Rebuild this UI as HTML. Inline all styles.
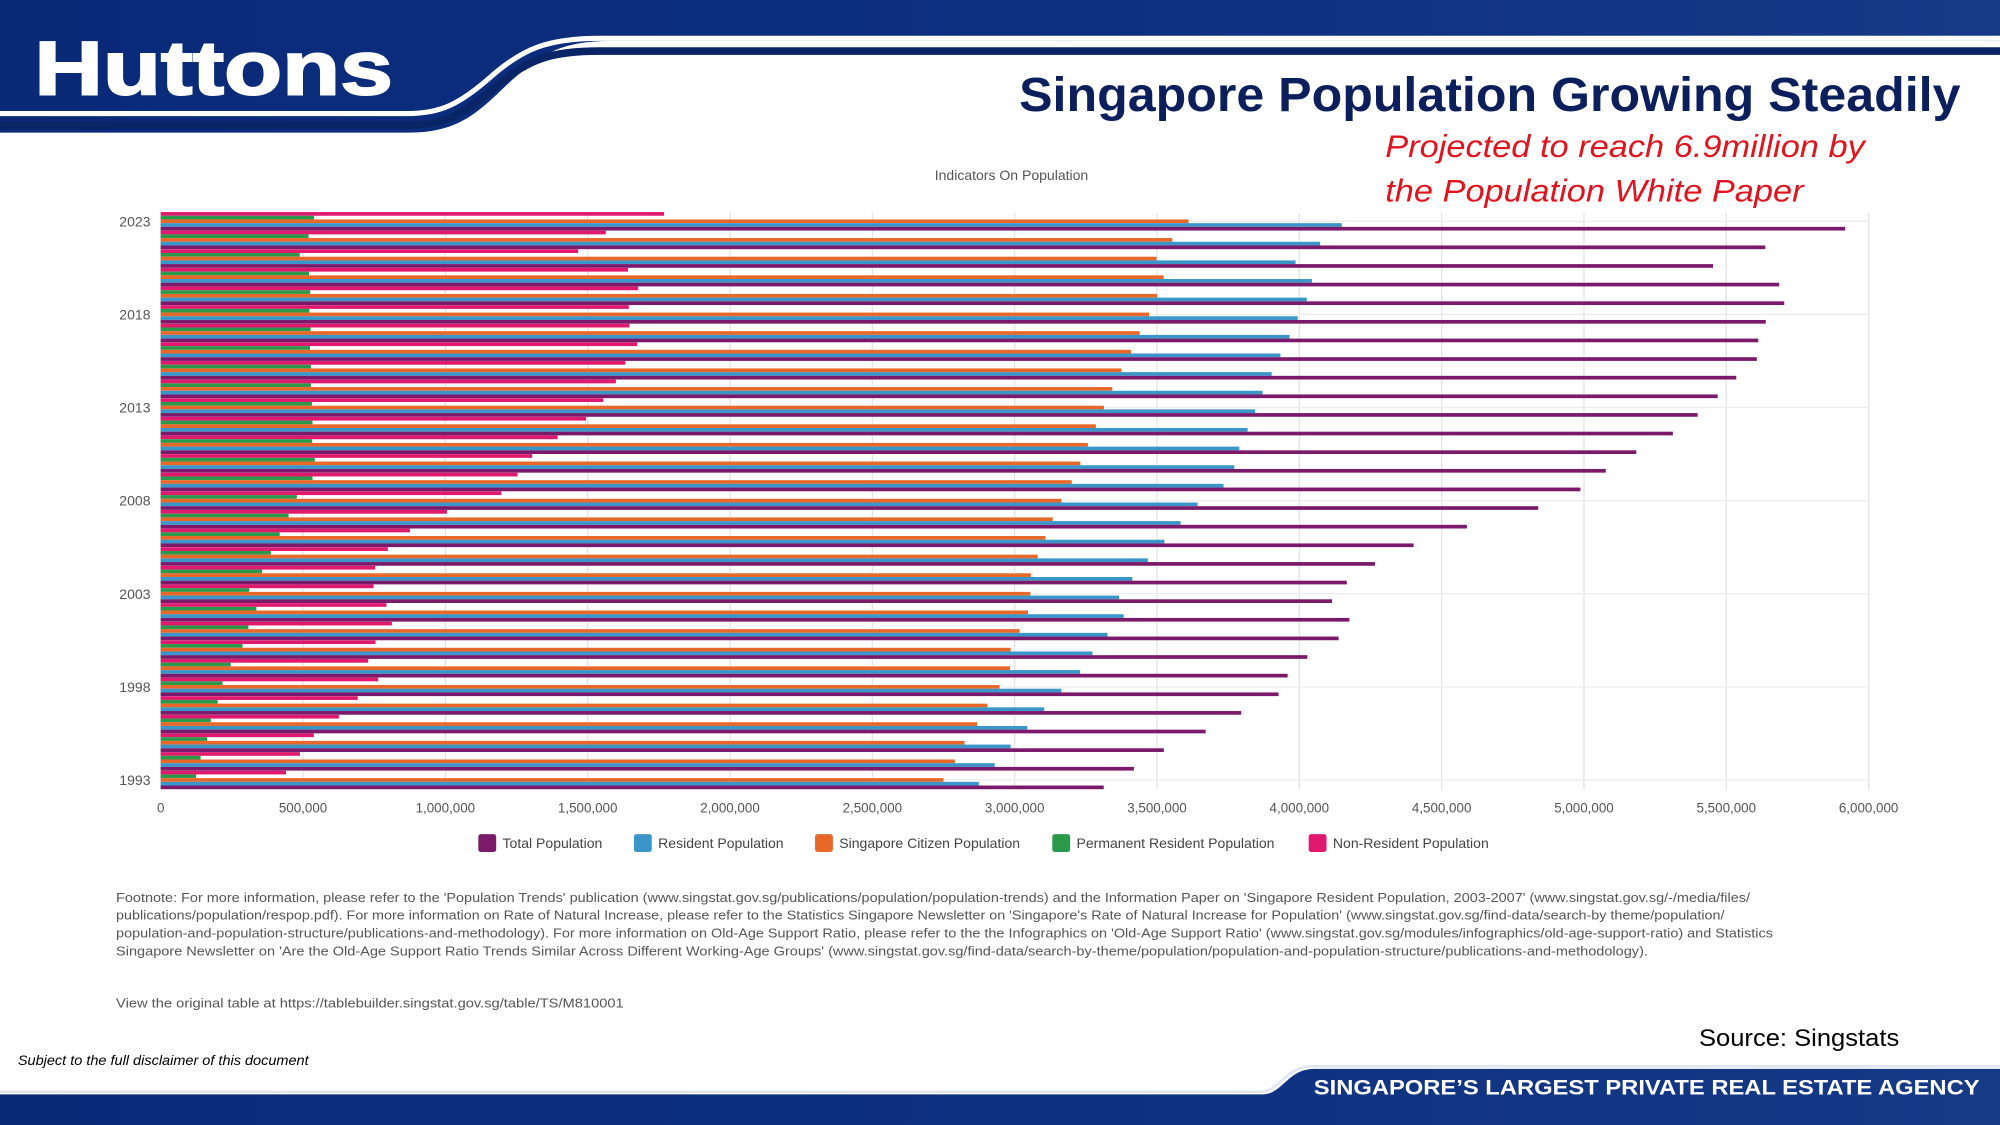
<!DOCTYPE html>
<html><head><meta charset="utf-8">
<style>
html,body{margin:0;padding:0;background:#fff;}
svg{display:block;font-family:"Liberation Sans",sans-serif;}
</style></head>
<body>
<svg id="page" width="2000" height="1125" viewBox="0 0 1568 882" xmlns="http://www.w3.org/2000/svg">
<defs>
<linearGradient id="nav" x1="0" y1="0" x2="1" y2="0"><stop offset="0" stop-color="#0a2a78"/><stop offset="0.5" stop-color="#0d2f80"/><stop offset="1" stop-color="#163a86"/></linearGradient>
</defs>
<g>
<path d="M0,0 H1568 V32 H480 C440,32 425,42 400,64 C375,88 360,104 320,104 H0 Z" fill="url(#nav)"/>
<path d="M0,89 H320 C345,89 360,82 385,60 C410,38 430,30 470,30 H1568" fill="none" stroke="#fff" stroke-width="4"/>
<path d="M0,98 H320 C350,98 362,90 390,67 C415,46 432,40 470,40 H1568" fill="none" stroke="#0a2566" stroke-width="6"/>
<text x="27" y="74" font-size="60" font-weight="bold" fill="#fff" stroke="#fff" stroke-width="1.5" textLength="281" lengthAdjust="spacingAndGlyphs">Huttons</text>
</g>
<text x="1537" y="87" text-anchor="end" font-size="38" font-weight="bold" fill="#0c1f5c" textLength="738" lengthAdjust="spacingAndGlyphs">Singapore Population Growing Steadily</text>
<g fill="#e0141e" font-style="italic" font-size="25">
<text x="1086" y="123" textLength="376" lengthAdjust="spacingAndGlyphs">Projected to reach 6.9million by</text>
<text x="1086" y="158" textLength="328" lengthAdjust="spacingAndGlyphs">the Population White Paper</text>
</g>
<text x="793" y="141" text-anchor="middle" font-size="11" fill="#555">Indicators On Population</text>
<g id="grid"></g>
<g id="bars"></g>
<g id="axes"></g>
<g id="legend"></g>
<g font-size="10.2" fill="#555">
<text x="91" y="707" textLength="1281" lengthAdjust="spacingAndGlyphs">Footnote: For more information, please refer to the 'Population Trends' publication (www.singstat.gov.sg/publications/population/population-trends) and the Information Paper on 'Singapore Resident Population, 2003-2007' (www.singstat.gov.sg/-/media/files/</text>
<text x="91" y="721" textLength="1261" lengthAdjust="spacingAndGlyphs">publications/population/respop.pdf). For more information on Rate of Natural Increase, please refer to the Statistics Singapore Newsletter on 'Singapore's Rate of Natural Increase for Population' (www.singstat.gov.sg/find-data/search-by theme/population/</text>
<text x="91" y="735" textLength="1299" lengthAdjust="spacingAndGlyphs">population-and-population-structure/publications-and-methodology). For more information on Old-Age Support Ratio, please refer to the the Infographics on 'Old-Age Support Ratio' (www.singstat.gov.sg/modules/infographics/old-age-support-ratio) and Statistics</text>
<text x="91" y="749" textLength="1201" lengthAdjust="spacingAndGlyphs">Singapore Newsletter on 'Are the Old-Age Support Ratio Trends Similar Across Different Working-Age Groups' (www.singstat.gov.sg/find-data/search-by-theme/population/population-and-population-structure/publications-and-methodology).</text>
<text x="91" y="790" textLength="398" lengthAdjust="spacingAndGlyphs">View the original table at https://tablebuilder.singstat.gov.sg/table/TS/M810001</text>
</g>
<text x="1332" y="820" font-size="19" fill="#000" textLength="157" lengthAdjust="spacingAndGlyphs">Source: Singstats</text>
<text x="14" y="835" font-size="10.5" font-style="italic" fill="#000" textLength="228" lengthAdjust="spacingAndGlyphs">Subject to the full disclaimer of this document</text>
<g>
<path d="M0,858 H990 C1005,858 1010,838 1030,838 H1568 V882 H0 Z" fill="url(#nav)"/>
<path d="M0,856 H988 C1003,856 1008,836 1028,836 H1568" fill="none" stroke="#dfe6f2" stroke-width="2"/>
<text x="1030" y="858" font-size="17" font-weight="bold" fill="#fff" textLength="522" lengthAdjust="spacingAndGlyphs">SINGAPORE’S LARGEST PRIVATE REAL ESTATE AGENCY</text>
</g>
</svg>
<script>
const years = [2023,2022,2021,2020,2019,2018,2017,2016,2015,2014,2013,2012,2011,2010,2009,2008,2007,2006,2005,2004,2003,2002,2001,2000,1999,1998,1997,1996,1995,1994,1993];
const totalPop = [5917.6,5637.0,5453.6,5685.8,5703.6,5638.7,5612.3,5607.3,5535.0,5469.7,5399.2,5312.4,5183.7,5076.7,4987.6,4839.4,4588.6,4401.4,4265.8,4166.7,4114.8,4176.0,4138.0,4027.9,3959,3927,3796,3671,3524,3419,3313];
const residentPop = [4149.3,4073.2,3986.8,4044.2,4026.2,3994.3,3965.8,3933.6,3902.7,3870.7,3844.8,3818.2,3789.3,3771.7,3733.9,3642.7,3583.1,3525.9,3467.8,3413.3,3366.9,3382.9,3325.9,3273.4,3230,3164,3104,3044,2986,2930,2874];
const citizenPop = [3610.7,3553.7,3498.2,3523.2,3500.9,3471.9,3439.2,3408.9,3375.0,3343.0,3313.5,3285.1,3257.2,3230.7,3200.7,3164.4,3133.8,3107.9,3081.0,3057.0,3055.0,3047.0,3017.0,2985.9,2984,2947,2904,2868,2824,2790,2750];
const prPop = [538.6,519.5,488.5,521.0,525.3,522.3,526.6,524.6,527.7,527.7,531.2,533.1,532.0,541.0,533.2,478.2,449.2,418.0,386.8,356.0,311.0,336.0,308.0,287.5,246,217,200,176,163,140,124];
const nonResPop = [1768.4,1563.7,1466.8,1641.6,1677.4,1644.4,1646.5,1673.7,1632.3,1599.0,1554.4,1494.2,1394.4,1305.0,1253.7,1196.7,1005.5,875.5,797.9,753.4,747.9,793.1,812.1,754.5,729,764,692,626,538,489,440];
const xTicks = [0,500000,1000000,1500000,2000000,2500000,3000000,3500000,4000000,4500000,5000000,5500000,6000000];
const yLabels = [2023,2018,2013,2008,2003,1998,1993];
const seriesNames = ["Total Population","Resident Population","Singapore Citizen Population","Permanent Resident Population","Non-Resident Population"];
const NS='http://www.w3.org/2000/svg';
const X0=126,X1=1465,YTOP=167,YBOT=619,ROW0=173.5,ROWN=611.5;
function xs(v){return X0+(v/6000000)*(X1-X0);}
function ys(i){return ROW0+i*(ROWN-ROW0)/(years.length-1);}
function mk(tag,attrs,parent){const e=document.createElementNS(NS,tag);for(const k in attrs)e.setAttribute(k,attrs[k]);parent.appendChild(e);return e;}
const grid=document.getElementById('grid'),bars=document.getElementById('bars'),axes=document.getElementById('axes'),legend=document.getElementById('legend');
xTicks.forEach(t=>{
  const l=mk('line',{x1:xs(t),x2:xs(t),y1:YTOP,y2:YBOT,stroke:'#e3e3e3','stroke-width':1},grid);
  
  
  const tx=mk('text',{x:xs(t),y:637,'text-anchor':'middle','font-size':10.5,fill:'#555'},axes);
  tx.textContent=t.toLocaleString('en-US');
  
  
});
yLabels.forEach(y=>{
  const i=years.indexOf(y);
  const l=mk('line',{x1:X0,x2:X1,y1:ys(i),y2:ys(i),stroke:'#ececec','stroke-width':1},grid);
  
  
  const tx=mk('text',{x:118,y:ys(i)+4,'text-anchor':'end','font-size':11,fill:'#555'},axes);
  tx.textContent=y;
  
  
});
const order=[[nonResPop,'#e0186e','bar-non-resident'],[prPop,'#2a9a4a','bar-permanent-resident'],[citizenPop,'#e8682a','bar-citizen'],[residentPop,'#3a96c8','bar-resident'],[totalPop,'#7b1a6b','bar-total']];
const off=[-5.8,-2.9,0,2.9,5.8];
years.forEach((yr,i)=>{
  order.forEach((s,k)=>{
    const r=mk('rect',{x:X0,y:ys(i)+off[k]-1.45,width:xs(s[0][i]*1000)-X0,height:2.9,fill:s[1]},bars);
    
    
  });
});
const legX=[375,497,639,825,1026],legC=['#7b1a6b','#3a96c8','#e8682a','#2a9a4a','#e0186e'];
seriesNames.forEach((n,k)=>{
  const g=mk('g',{},legend);
  
  
  mk('rect',{x:legX[k],y:654,width:14,height:14,rx:2,fill:legC[k]},g);
  const t=mk('text',{x:legX[k]+19,y:665,'font-size':11,fill:'#444'},g);
  t.textContent=n;
});
</script>
</body></html>
